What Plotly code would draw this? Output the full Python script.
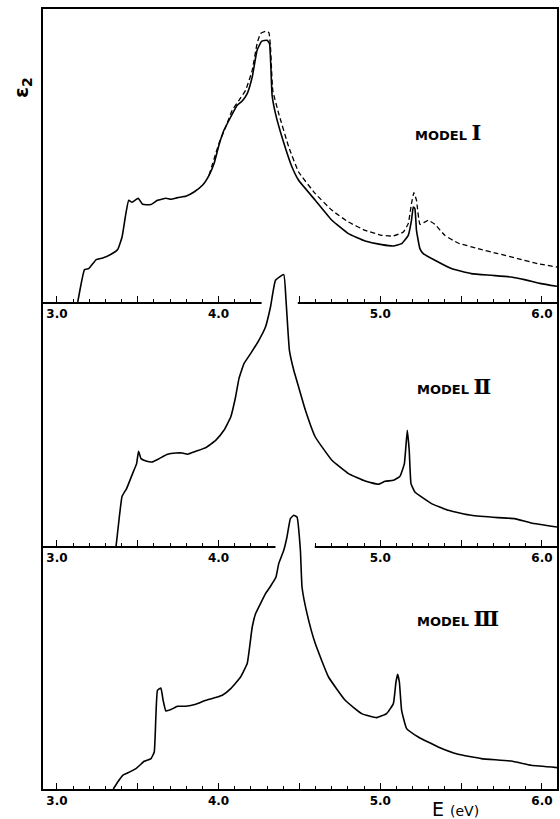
import plotly.graph_objects as go

# ---------------- data (E in eV, eps2 in arbitrary units) ----------------
m1_E = [3.129, 3.171, 3.197, 3.243, 3.283, 3.335, 3.376, 3.403, 3.423, 3.444, 3.465, 3.503, 3.530,
        3.582, 3.622, 3.674, 3.705, 3.746, 3.797, 3.848, 3.900, 3.941, 3.972, 4.002, 4.033, 4.075,
        4.115, 4.146, 4.177, 4.208, 4.238, 4.266, 4.300, 4.315, 4.331, 4.352, 4.392, 4.454, 4.495,
        4.598, 4.701, 4.803, 4.906, 5.009, 5.081, 5.132, 5.173, 5.193, 5.204, 5.214, 5.224, 5.245,
        5.266, 5.338, 5.440, 5.563, 5.686, 5.810, 5.892, 5.994, 6.093]
m1_eps = [0, 32.4, 33.4, 42.4, 44, 47.7, 52.4, 65, 85, 101.7, 99.7, 103.7, 97.7,
          97.4, 101.7, 103.7, 102.7, 104.4, 105.7, 110, 116.7, 126.7, 138.4, 156.7, 171.7, 185,
          196.7, 201, 208.4, 225, 251.7, 260.7, 261.7, 258.4, 206.7, 188.4, 165, 135, 121.7,
          101.7, 81.7, 68.4, 61, 57.4, 56, 58.4, 66.7, 81.7, 95, 93.4, 71.7, 53.4,
          48.4, 41.7, 33.4, 28.4, 26.7, 25, 22.4, 18.4, 15.7]

m1d_E = [3.941, 4.002, 4.044, 4.084, 4.126, 4.167, 4.208, 4.238, 4.259, 4.290, 4.311, 4.321, 4.335,
         4.372, 4.434, 4.495, 4.598, 4.701, 4.803, 4.906, 5.009, 5.081, 5.143, 5.173, 5.193, 5.208,
         5.224, 5.245, 5.276, 5.296, 5.338, 5.399, 5.481, 5.604, 5.727, 5.850, 5.973, 6.093]
m1d_eps = [126.7, 158.4, 175, 191.7, 201.7, 211.7, 231.7, 258.4, 268.4, 270.7, 269.4, 255, 211.7,
           188.4, 155, 130, 108.4, 91.7, 80, 71.7, 66.7, 66, 70, 78.4, 98.4, 109.4,
           101.7, 77.7, 80, 81.7, 77.7, 66.7, 59, 53.4, 48.4, 43.4, 38.4, 35]

m2_E = [3.366, 3.386, 3.403, 3.431, 3.468, 3.493, 3.505, 3.520, 3.551, 3.588, 3.633, 3.684, 3.736,
        3.776, 3.807, 3.859, 3.921, 3.982, 4.033, 4.075, 4.105, 4.126, 4.157, 4.198, 4.249, 4.290,
        4.321, 4.352, 4.403, 4.417, 4.438, 4.465, 4.495, 4.537, 4.598, 4.701, 4.803, 4.906, 4.988,
        5.030, 5.081, 5.122, 5.149, 5.167, 5.179, 5.190, 5.214, 5.317, 5.420, 5.563, 5.728, 5.831,
        5.933, 6.093]
m2_eps = [0, 29, 49.7, 57.4, 72.4, 82.4, 94.7, 87.4, 85, 84, 87.4, 91.7, 93,
          93, 91.7, 94.7, 98.4, 105.7, 115.7, 129, 149, 167.4, 182.4, 192.4, 205.7, 219,
          239, 265.7, 271.4, 245.7, 195.7, 175.7, 159, 135.7, 109, 85.7, 72.4, 65, 61.7,
          64.7, 65.7, 69.7, 82.4, 115.7, 95.7, 62.4, 54, 42.4, 35.7, 30.7, 28.4, 27.4,
          23, 19]

m3_E = [3.349, 3.376, 3.407, 3.437, 3.489, 3.540, 3.582, 3.602, 3.612, 3.622, 3.643, 3.657, 3.674,
        3.705, 3.746, 3.797, 3.859, 3.921, 3.982, 4.023, 4.075, 4.136, 4.177, 4.192, 4.208, 4.229,
        4.259, 4.290, 4.321, 4.355, 4.372, 4.403, 4.423, 4.444, 4.465, 4.485, 4.506, 4.516, 4.547,
        4.598, 4.680, 4.783, 4.885, 4.978, 5.039, 5.081, 5.097, 5.107, 5.118, 5.132, 5.163, 5.235,
        5.358, 5.481, 5.625, 5.810, 5.933, 6.093]
m3_eps = [0, 7, 13.7, 16, 20.4, 27.7, 30.4, 37, 72, 98.7, 101, 88.7, 78,
          79.4, 82.7, 82.7, 84.7, 88.7, 91.4, 93.7, 100.4, 112, 125.4, 142, 162, 175.4,
          185.4, 195.4, 202.7, 212, 225.4, 238.7, 252, 270.4, 273.7, 272, 238.7, 202, 175.4,
          145.4, 112, 88.7, 75.4, 71.4, 75.4, 85.4, 107, 114.7, 107, 78.7, 60.4, 52,
          42, 34.7, 30.4, 28, 23.7, 21.4]

major_ticks = [3.0, 3.5, 4.0, 4.5, 5.0, 5.5, 6.0]
major_labels = ["3.0", "", "4.0", "", "5.0", "", "6.0"]
model_names = ["MODEL", "MODEL", "MODEL"]
model_numerals = ["Ⅰ", "Ⅱ", "Ⅲ"]

# axis breaks where the next curve passes through a baseline
gap1 = [4.266, 4.49]   # break in panel-1 baseline (panel-2 peak)
gap2 = [4.352, 4.595]  # break in panel-2 baseline (panel-3 peak)

# ---------------- layout geometry ----------------
W, H = 560, 819
ML, MR, MT, MB = 43, 1, 9, 30
PH = H - MT - MB           # 780 px of plot height, 1 unit = 1 px
BASE2 = 243                # panel-2 baseline above bottom axis (px)
BASE1 = 487                # panel-1 baseline above bottom axis (px)
XR = [2.914, 6.093]

FONT = "DejaVu Sans"
LW = 1.6
SMOOTH = dict(shape="spline", smoothing=0.35)

fig = go.Figure()

# panel 1 (x / y)
fig.add_trace(go.Scatter(x=m1_E, y=m1_eps, mode="lines", xaxis="x", yaxis="y",
                         line=dict(color="black", width=LW, **SMOOTH), hoverinfo="skip"))
fig.add_trace(go.Scatter(x=m1d_E, y=m1d_eps, mode="lines", xaxis="x", yaxis="y",
                         line=dict(color="black", width=1.3, dash="5px,3px", **SMOOTH),
                         hoverinfo="skip"))

# panel 2 (x2 / y2): white mask over panel-1 baseline, then the curve
fig.add_trace(go.Scatter(x=gap1, y=[BASE1 - BASE2] * 2, mode="lines", xaxis="x2", yaxis="y2",
                         line=dict(color="white", width=13), hoverinfo="skip"))
fig.add_trace(go.Scatter(x=m2_E, y=m2_eps, mode="lines", xaxis="x2", yaxis="y2",
                         line=dict(color="black", width=LW, **SMOOTH), hoverinfo="skip"))

# panel 3 (x3 / y3)
fig.add_trace(go.Scatter(x=gap2, y=[BASE2] * 2, mode="lines", xaxis="x3", yaxis="y3",
                         line=dict(color="white", width=13), hoverinfo="skip"))
fig.add_trace(go.Scatter(x=m3_E, y=m3_eps, mode="lines", xaxis="x3", yaxis="y3",
                         line=dict(color="black", width=LW, **SMOOTH), hoverinfo="skip"))


def xax(anchor, mirror=False):
    return dict(
        anchor=anchor, domain=[0, 1], range=XR, showgrid=False, zeroline=False,
        showline=True, linecolor="black", linewidth=1.5, mirror=mirror,
        ticks="inside", ticklen=6, tickwidth=1.2, tickcolor="black",
        tickmode="array", tickvals=major_ticks, ticktext=major_labels,
        tickfont=dict(family=FONT, size=12, color="black", weight="bold"),
        minor=dict(dtick=0.1, tick0=3.0, ticks="inside", ticklen=3.5,
                   tickwidth=1.1, tickcolor="black", showgrid=False),
        fixedrange=True,
    )


def yax(base, show=False):
    d = dict(domain=[base / PH, 1], range=[0, PH - base], showgrid=False, zeroline=False,
             showticklabels=False, ticks="", fixedrange=True)
    if show:
        d.update(showline=True, linecolor="black", linewidth=1.5, mirror=True)
    else:
        d.update(showline=False)
    return d


fig.update_layout(
    width=W, height=H,
    margin=dict(l=ML, r=MR, t=MT, b=MB),
    paper_bgcolor="white", plot_bgcolor="rgba(0,0,0,0)",
    showlegend=False,
    xaxis=xax("y"), xaxis2=xax("y2"), xaxis3=xax("y3", mirror=True),
    yaxis=yax(BASE1), yaxis2=yax(BASE2), yaxis3=yax(0, show=True),
)

ann = []
# model labels
model_pos = [(5.205, 789 - 132), (5.217, 789 - 386), (5.217, 789 - 618)]
for name, num, (xe, yy) in zip(model_names, model_numerals, model_pos):
    ann.append(dict(
        x=xe, y=yy, xref="x3", yref="y3", xanchor="left", yanchor="middle", showarrow=False,
        text=f"{name} <span style='font-family:DejaVu Serif;font-size:21px'>{num}</span>",
        font=dict(family=FONT, size=13, color="black", weight="bold"),
    ))
# y label
ann.append(dict(x=(22 - ML) / (W - ML - MR), y=(789 - 88) / PH, xref="paper", yref="paper",
                text="ε<sub>2</sub>", textangle=-90, showarrow=False,
                font=dict(family=FONT, size=20, color="black", weight="bold"),
                xanchor="center", yanchor="middle"))
# x label
ann.append(dict(x=(457 - ML) / (W - ML - MR), y=(789 - 809) / PH, xref="paper", yref="paper",
                text="E <span style='font-size:14px'>(eV)</span>", showarrow=False,
                font=dict(family=FONT, size=19, color="black"),
                xanchor="center", yanchor="middle"))
fig.update_layout(annotations=ann)

fig.write_html("out.html", config={"displayModeBar": False},
               post_script="document.body.style.margin='0';document.body.style.overflow='hidden';")
